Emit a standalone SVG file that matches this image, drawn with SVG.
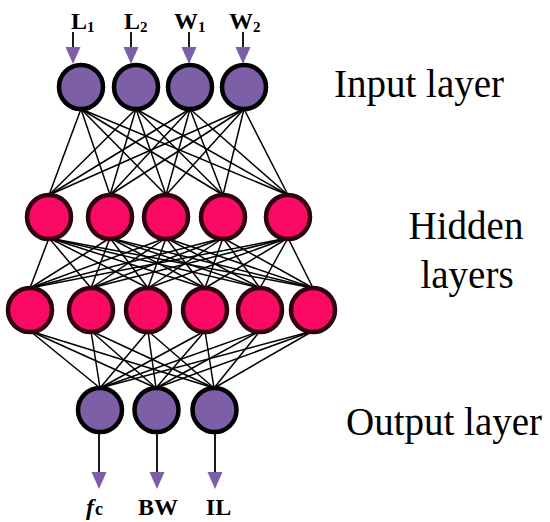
<svg xmlns="http://www.w3.org/2000/svg" width="550" height="522" viewBox="0 0 550 522">
<style>
.in{fill:#7C5FA6;stroke:#000;stroke-width:4.5}
.hid{fill:#FA0A63;stroke:#2E0010;stroke-width:4.5}
.out{fill:#7C5FA6;stroke:#000;stroke-width:4.5}
.lbl{font-family:"Liberation Serif",serif;font-weight:bold;font-size:24px;fill:#000}
.sub{font-size:15px}
.cap{font-family:"Liberation Serif",serif;font-size:39px;fill:#000}
.conn line{stroke:#000;stroke-width:1.5}
.arr{stroke:#000;stroke-width:1.8}
.head{fill:#7C5FA6}
</style>
<rect width="550" height="522" fill="#fff"/>
<g id="connectors" class="conn">
<line x1="81" y1="109" x2="49" y2="195"/><line x1="81" y1="109" x2="110" y2="195"/><line x1="81" y1="109" x2="166" y2="195"/><line x1="81" y1="109" x2="223" y2="195"/><line x1="81" y1="109" x2="288" y2="195"/>
<line x1="136" y1="109" x2="49" y2="195"/><line x1="136" y1="109" x2="110" y2="195"/><line x1="136" y1="109" x2="166" y2="195"/><line x1="136" y1="109" x2="223" y2="195"/><line x1="136" y1="109" x2="288" y2="195"/>
<line x1="190" y1="109" x2="49" y2="195"/><line x1="190" y1="109" x2="110" y2="195"/><line x1="190" y1="109" x2="166" y2="195"/><line x1="190" y1="109" x2="223" y2="195"/><line x1="190" y1="109" x2="288" y2="195"/>
<line x1="244" y1="109" x2="49" y2="195"/><line x1="244" y1="109" x2="110" y2="195"/><line x1="244" y1="109" x2="166" y2="195"/><line x1="244" y1="109" x2="223" y2="195"/><line x1="244" y1="109" x2="288" y2="195"/>
<line x1="49" y1="238" x2="30" y2="288"/><line x1="49" y1="238" x2="91" y2="288"/><line x1="49" y1="238" x2="148" y2="288"/><line x1="49" y1="238" x2="205" y2="288"/><line x1="49" y1="238" x2="260" y2="288"/><line x1="49" y1="238" x2="313" y2="288"/>
<line x1="110" y1="238" x2="30" y2="288"/><line x1="110" y1="238" x2="91" y2="288"/><line x1="110" y1="238" x2="148" y2="288"/><line x1="110" y1="238" x2="205" y2="288"/><line x1="110" y1="238" x2="260" y2="288"/><line x1="110" y1="238" x2="313" y2="288"/>
<line x1="166" y1="238" x2="30" y2="288"/><line x1="166" y1="238" x2="91" y2="288"/><line x1="166" y1="238" x2="148" y2="288"/><line x1="166" y1="238" x2="205" y2="288"/><line x1="166" y1="238" x2="260" y2="288"/><line x1="166" y1="238" x2="313" y2="288"/>
<line x1="223" y1="238" x2="30" y2="288"/><line x1="223" y1="238" x2="91" y2="288"/><line x1="223" y1="238" x2="148" y2="288"/><line x1="223" y1="238" x2="205" y2="288"/><line x1="223" y1="238" x2="260" y2="288"/><line x1="223" y1="238" x2="313" y2="288"/>
<line x1="288" y1="238" x2="30" y2="288"/><line x1="288" y1="238" x2="91" y2="288"/><line x1="288" y1="238" x2="148" y2="288"/><line x1="288" y1="238" x2="205" y2="288"/><line x1="288" y1="238" x2="260" y2="288"/><line x1="288" y1="238" x2="313" y2="288"/>
<line x1="30" y1="331" x2="100" y2="388"/><line x1="30" y1="331" x2="156" y2="388"/><line x1="30" y1="331" x2="214" y2="388"/>
<line x1="91" y1="331" x2="100" y2="388"/><line x1="91" y1="331" x2="156" y2="388"/><line x1="91" y1="331" x2="214" y2="388"/>
<line x1="148" y1="331" x2="100" y2="388"/><line x1="148" y1="331" x2="156" y2="388"/><line x1="148" y1="331" x2="214" y2="388"/>
<line x1="205" y1="331" x2="100" y2="388"/><line x1="205" y1="331" x2="156" y2="388"/><line x1="205" y1="331" x2="214" y2="388"/>
<line x1="260" y1="331" x2="100" y2="388"/><line x1="260" y1="331" x2="156" y2="388"/><line x1="260" y1="331" x2="214" y2="388"/>
<line x1="313" y1="331" x2="100" y2="388"/><line x1="313" y1="331" x2="156" y2="388"/><line x1="313" y1="331" x2="214" y2="388"/>
</g>
<g id="input-arrows">
<line class="arr" x1="73" y1="32" x2="73" y2="48"/><polygon class="head" points="65.5,47 80.5,47 73,64"/>
<line class="arr" x1="131" y1="32" x2="131" y2="48"/><polygon class="head" points="123.5,47 138.5,47 131,64"/>
<line class="arr" x1="189" y1="32" x2="189" y2="48"/><polygon class="head" points="181.5,47 196.5,47 189,64"/>
<line class="arr" x1="243" y1="32" x2="243" y2="48"/><polygon class="head" points="235.5,47 250.5,47 243,64"/>
</g>
<g id="input-labels">
<text class="lbl" x="71" y="29">L<tspan class="sub" dy="3">1</tspan></text>
<text class="lbl" x="124" y="29">L<tspan class="sub" dy="3">2</tspan></text>
<text class="lbl" x="174" y="29">W<tspan class="sub" dy="3">1</tspan></text>
<text class="lbl" x="229" y="29">W<tspan class="sub" dy="3">2</tspan></text>
</g>
<g id="in1"><circle class="in" cx="81" cy="87" r="22"/></g>
<g id="in2"><circle class="in" cx="136" cy="87" r="22"/></g>
<g id="in3"><circle class="in" cx="190" cy="87" r="22"/></g>
<g id="in4"><circle class="in" cx="244" cy="87" r="22"/></g>
<g id="h1a"><circle class="hid" cx="49" cy="217" r="22"/></g>
<g id="h1b"><circle class="hid" cx="110" cy="217" r="22"/></g>
<g id="h1c"><circle class="hid" cx="166" cy="217" r="22"/></g>
<g id="h1d"><circle class="hid" cx="223" cy="217" r="22"/></g>
<g id="h1e"><circle class="hid" cx="288" cy="217" r="22"/></g>
<g id="h2a"><circle class="hid" cx="30" cy="310" r="22"/></g>
<g id="h2b"><circle class="hid" cx="91" cy="310" r="22"/></g>
<g id="h2c"><circle class="hid" cx="148" cy="310" r="22"/></g>
<g id="h2d"><circle class="hid" cx="205" cy="310" r="22"/></g>
<g id="h2e"><circle class="hid" cx="260" cy="310" r="22"/></g>
<g id="h2f"><circle class="hid" cx="313" cy="310" r="22"/></g>
<g id="out1"><circle class="out" cx="100" cy="410" r="22"/></g>
<g id="out2"><circle class="out" cx="156.5" cy="410" r="22"/></g>
<g id="out3"><circle class="out" cx="214.5" cy="410" r="22"/></g>
<g id="output-arrows">
<line class="arr" x1="99" y1="433" x2="99" y2="473"/><polygon class="head" points="91.5,472 106.5,472 99,489"/>
<line class="arr" x1="157" y1="433" x2="157" y2="473"/><polygon class="head" points="149.5,472 164.5,472 157,489"/>
<line class="arr" x1="215" y1="433" x2="215" y2="473"/><polygon class="head" points="207.5,472 222.5,472 215,489"/>
</g>
<g id="output-labels">
<text class="lbl" x="86" y="515"><tspan font-style="italic">f</tspan><tspan font-size="18" dx="1">c</tspan></text>
<text class="lbl" x="158" y="515" text-anchor="middle">BW</text>
<text class="lbl" x="218.5" y="515" text-anchor="middle">IL</text>
</g>
<g id="captions">
<text class="cap" x="419" y="97" text-anchor="middle">Input layer</text>
<text class="cap" x="466" y="239" text-anchor="middle">Hidden</text>
<text class="cap" x="467" y="288" text-anchor="middle">layers</text>
<text class="cap" x="444" y="435" text-anchor="middle">Output layer</text>
</g>
</svg>
